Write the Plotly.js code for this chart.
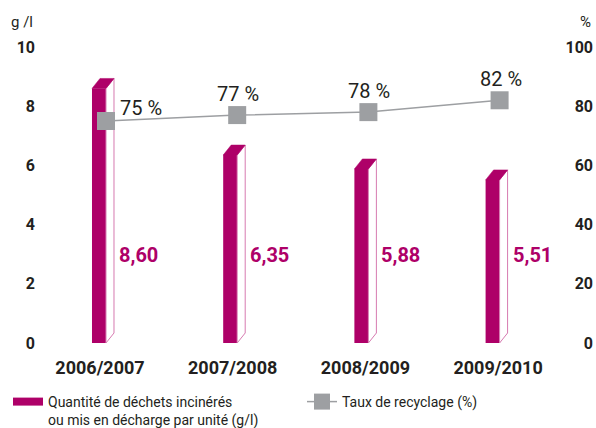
<!DOCTYPE html>
<html>
<head>
<meta charset="utf-8">
<script src="https://cdn.plot.ly/plotly-3.0.1.min.js"></script>
<style>html,body{margin:0;padding:0;background:#fff;}#chart{width:596px;height:428px;}</style>
</head>
<body>
<div id="chart"></div>
<script>
// ---- data ----
const categories = ['2006/2007', '2007/2008', '2008/2009', '2009/2010'];
const wasteValues = [8.60, 6.35, 5.88, 5.51];          // g/l
const wasteLabels = ['8,60', '6,35', '5,88', '5,51'];
const recyclingRates = [75, 77, 78, 82];                // %
const recyclingLabels = ['75 %', '77 %', '78 %', '82 %'];
const leftTicks = [0, 2, 4, 6, 8, 10];
const rightTicks = [0, 20, 40, 60, 80, 100];
const wasteName = 'Quantité de déchets incinérés<br>ou mis en décharge par unité (g/l)';
const recyclingName = 'Taux de recyclage (%)';

// ---- style ----
const MAGENTA = '#AE0068';
const PINK = '#D77AB0';
const GREY = '#9D9FA2';
const DARK = '#231F20';
const FONT = 'Roboto, "Liberation Sans", sans-serif';

const W = 596, H = 428;
const margin = {l: 36, r: 3, t: 47, b: 85, autoexpand: false};
const plotW = W - margin.l - margin.r, plotH = H - margin.t - margin.b;
// axis carrying the category labels
const xRange = [-0.482, 3.715];
// axis carrying the marks (slightly tighter spacing, as in the original artwork)
const markRange = [-0.5335, 3.712];
const pxPerX = plotW / (markRange[1] - markRange[0]);
const pxPerY = plotH / 10;

const barW = 14 / pxPerX;
const barOff = -14 / pxPerX;
const dx = 8 / pxPerX;
const dy = 10 / pxPerY;

const xs = categories.map((_, i) => i);

// 3D faces derived from the values
const sideX = [], sideY = [], topX = [], topY = [];
xs.forEach((x, i) => {
  const v = wasteValues[i];
  const xl = x + barOff, xr = xl + barW;
  sideX.push(xr, xr, xr + dx, xr + dx, xr, null);
  sideY.push(0, v, v + dy, dy, 0, null);
  topX.push(xl, xl + dx, xr + dx, xr, xl, null);
  topY.push(v, v + dy, v + dy, v, v, null);
});

const traces = [
  // legend entry for the bars (also anchors the category axis)
  {type: 'scatter', mode: 'lines', x: [null], y: [null], name: wasteName,
   line: {color: MAGENTA, width: 8}, legend: 'legend', showlegend: true},
  {type: 'bar', x: xs, y: wasteValues, xaxis: 'x2', width: barW, offset: barOff,
   marker: {color: MAGENTA, line: {width: 0}}, showlegend: false, hoverinfo: 'y'},
  {type: 'scatter', mode: 'lines', x: sideX, y: sideY, xaxis: 'x2', fill: 'toself', fillcolor: '#FFFFFF',
   line: {color: PINK, width: 1}, showlegend: false, hoverinfo: 'skip'},
  {type: 'scatter', mode: 'lines', x: topX, y: topY, xaxis: 'x2', fill: 'toself', fillcolor: MAGENTA,
   line: {color: MAGENTA, width: 0.5}, showlegend: false, hoverinfo: 'skip'},
  {type: 'scatter', mode: 'lines+markers', x: xs, y: recyclingRates, xaxis: 'x2', yaxis: 'y2',
   name: recyclingName, line: {color: GREY, width: 1.5},
   marker: {symbol: 'square', size: 18, color: GREY}, legend: 'legend2', showlegend: true}
];

const annotations = [];
recyclingLabels.forEach((t, i) => {
  annotations.push({x: xs[i], y: recyclingRates[i], xref: 'x2', yref: 'y2', text: t,
    showarrow: false, xanchor: i === 0 ? 'left' : 'center', yanchor: 'middle',
    xshift: i === 0 ? 12 : 1, yshift: i === 0 ? 13 : 21,
    font: {family: FONT, size: 20, color: DARK}});
});
wasteLabels.forEach((t, i) => {
  annotations.push({x: xs[i] + dx, y: 0.298, xref: 'x2', yref: 'paper', text: t,
    showarrow: false, xanchor: 'left', yanchor: 'middle', xshift: 3,
    font: {family: FONT, size: 20, color: MAGENTA, weight: 'bold'}});
});
const unitY = (H - margin.b - 22) / plotH;
annotations.push({x: (9 - margin.l) / plotW, y: unitY, xref: 'paper', yref: 'paper', text: 'g /l',
  showarrow: false, xanchor: 'left', yanchor: 'middle', font: {family: FONT, size: 15, color: DARK}});
annotations.push({x: 1, y: unitY, xref: 'paper', yref: 'paper', text: '%',
  showarrow: false, xanchor: 'right', yanchor: 'middle', font: {family: FONT, size: 15, color: DARK}});

const legendFont = {family: FONT, size: 14, color: DARK};
const legendTop = (H - margin.b - 386) / plotH;

const layout = {
  width: W, height: H, margin: margin,
  paper_bgcolor: '#FFFFFF', plot_bgcolor: '#FFFFFF',
  showlegend: true,
  xaxis: {range: xRange, tickmode: 'array', tickvals: xs, ticktext: categories,
    showgrid: false, zeroline: false, showline: false, ticks: '', ticklabelstandoff: 12,
    tickfont: {family: FONT, size: 18, color: DARK, weight: 'bold'}},
  xaxis2: {range: markRange, overlaying: 'x', visible: false},
  yaxis: {range: [0, 10], tickmode: 'array', tickvals: leftTicks,
    showgrid: false, zeroline: false, showline: false, ticks: '',
    tickfont: {family: FONT, size: 16, color: DARK, weight: 'bold'}},
  yaxis2: {range: [0, 100], overlaying: 'y', anchor: 'free', position: 1, side: 'left',
    tickmode: 'array', tickvals: rightTicks, showgrid: false, zeroline: false, showline: false, ticks: '',
    tickfont: {family: FONT, size: 16, color: DARK, weight: 'bold'}},
  legend: {x: (8 - margin.l) / plotW, y: legendTop, xanchor: 'left', yanchor: 'top',
    orientation: 'h', valign: 'top', bgcolor: 'rgba(0,0,0,0)', borderwidth: 0, font: legendFont},
  legend2: {x: (302 - margin.l) / plotW, y: legendTop, xanchor: 'left', yanchor: 'top',
    orientation: 'h', valign: 'top', bgcolor: 'rgba(0,0,0,0)', borderwidth: 0, font: legendFont},
  annotations: annotations
};

Plotly.newPlot('chart', traces, layout, {displayModeBar: false, staticPlot: true});
</script>
</body>
</html>
